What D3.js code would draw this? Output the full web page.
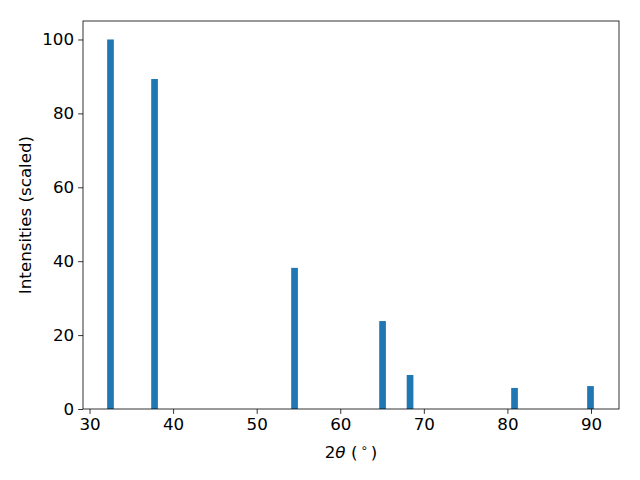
<!DOCTYPE html>
<html>
<head>
<meta charset="utf-8">
<script src="https://cdn.jsdelivr.net/npm/d3@7"></script>
<style>
  body { margin: 0; background: #fff; }
  svg text { font-family: "DejaVu Sans", sans-serif; fill: #000; }
</style>
</head>
<body>
<svg id="chart" width="640" height="480"></svg>
<script>
'use strict';

// peak positions (2theta, degrees) and scaled intensities
const angles = [32.51, 37.78, 54.53, 65.06, 68.35, 80.85, 89.94];
const intensities = [100, 89.3, 38.2, 23.8, 9.2, 5.7, 6.2];
const xTicks = [30, 40, 50, 60, 70, 80, 90];
const yTicks = [0, 20, 40, 60, 80, 100];

const BAR_WIDTH = 0.8;
const FONT_SIZE = 16.7;
const margin = {left: 83, right: 21, top: 21, bottom: 71};
const width = 640 - margin.left - margin.right;
const height = 480 - margin.top - margin.bottom;

let svg = d3.select('#chart');
let g = svg.append('g')
  .attr('transform', 'translate(' + margin.left + ',' + margin.top + ')');

let x = d3.scaleLinear().domain([29.22, 93.35]).range([0, width]);
let y = d3.scaleLinear().domain([0, 105]).range([height, 0]);

g.selectAll('rect.bar')
  .data(angles)
  .enter().append('rect')
    .attr('class', 'bar')
    .attr('x', function(d) { return x(d - BAR_WIDTH / 2); })
    .attr('width', function(d) { return x(d + BAR_WIDTH / 2) - x(d - BAR_WIDTH / 2); })
    .attr('y', function(d, i) { return y(intensities[i]); })
    .attr('height', function(d, i) { return height - y(intensities[i]); })
    .attr('fill', '#1f77b4');

let xAxis = g.append('g')
  .attr('transform', 'translate(0,' + height + ')')
  .call(d3.axisBottom(x).tickValues(xTicks).tickSizeOuter(0).tickSize(4.9).tickPadding(4));
let yAxis = g.append('g')
  .call(d3.axisLeft(y).tickValues(yTicks).tickSizeOuter(0).tickSize(4.9).tickPadding(4));

[xAxis, yAxis].forEach(function(ax) {
  ax.attr('font-size', FONT_SIZE).attr('font-family', '"DejaVu Sans", sans-serif');
  ax.select('.domain').remove();
  ax.selectAll('line').attr('stroke', '#000').attr('stroke-width', 0.8);
});

// frame
g.append('rect')
  .attr('width', width)
  .attr('height', height)
  .attr('fill', 'none')
  .attr('stroke', '#000')
  .attr('stroke-width', 0.8);

// x label: 2θ (°)
let xl = svg.append('text')
  .attr('x', margin.left + width / 2)
  .attr('y', 458)
  .attr('text-anchor', 'middle')
  .attr('font-size', FONT_SIZE);
xl.append('tspan').text('2');
xl.append('tspan').attr('font-style', 'italic').text('θ');
xl.append('tspan').text(' (');
xl.append('tspan').attr('font-size', 11.7).attr('dx', 3).attr('dy', -6).text('∘');
xl.append('tspan').attr('dx', 3).attr('dy', 6).text(')');

svg.append('text')
  .attr('transform', 'translate(31,' + (margin.top + height / 2) + ') rotate(-90)')
  .attr('text-anchor', 'middle')
  .attr('font-size', FONT_SIZE)
  .text('Intensities (scaled)');
</script>
</body>
</html>
